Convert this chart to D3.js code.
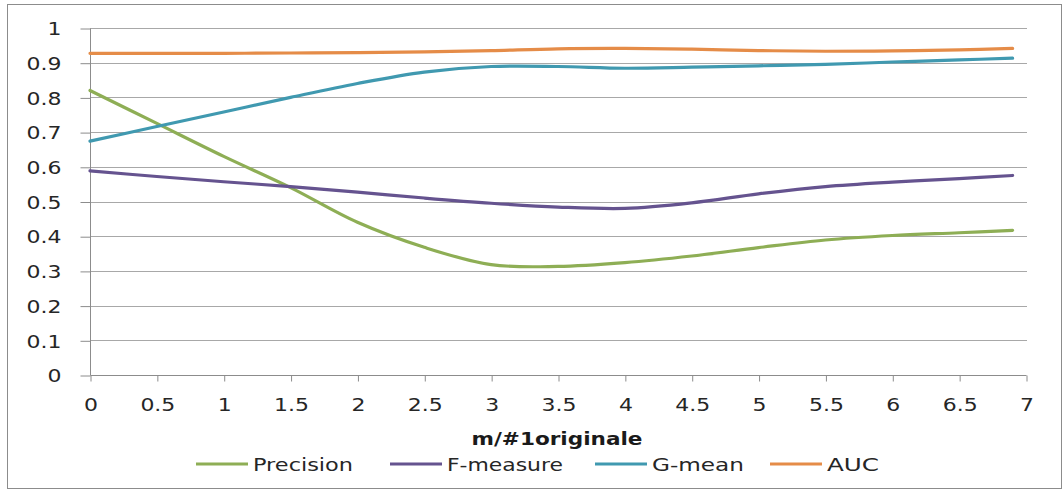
<!DOCTYPE html>
<html>
<head>
<meta charset="utf-8">
<script src="https://cdn.jsdelivr.net/npm/d3@7"></script>
<style>
  html, body { margin: 0; padding: 0; background: #fff; }
  svg { display: block; }
</style>
</head>
<body>
<svg id="chart" width="1063" height="492"></svg>
<script>
// ---- data ----
const xs = [0, 0.5, 1, 1.5, 2, 2.5, 3, 3.5, 4, 4.5, 5, 5.5, 6, 6.5, 6.9];
const precision = [0.82, 0.725, 0.63, 0.54, 0.44, 0.368, 0.318, 0.313, 0.324, 0.343, 0.367, 0.389, 0.402, 0.41, 0.417];
const fmeasure  = [0.588, 0.572, 0.557, 0.543, 0.527, 0.51, 0.495, 0.484, 0.48, 0.496, 0.522, 0.543, 0.556, 0.566, 0.575];
const gmean     = [0.674, 0.716, 0.758, 0.80, 0.84, 0.873, 0.889, 0.889, 0.884, 0.887, 0.891, 0.895, 0.902, 0.908, 0.913];
const auc       = [0.927, 0.927, 0.927, 0.928, 0.929, 0.931, 0.935, 0.94, 0.941, 0.939, 0.935, 0.933, 0.934, 0.937, 0.941];
const seriesNames = ["Precision", "F-measure", "G-mean", "AUC"];
const yTicks = [0, 0.1, 0.2, 0.3, 0.4, 0.5, 0.6, 0.7, 0.8, 0.9, 1];
const xTicks = [0, 0.5, 1, 1.5, 2, 2.5, 3, 3.5, 4, 4.5, 5, 5.5, 6, 6.5, 7];
const xTitle = "m/#1originale";

const seriesValues = [precision, fmeasure, gmean, auc];
const colors = ["#8eae55", "#65538f", "#4099b0", "#e58c48"];

const svg = d3.select("#chart");
const x = d3.scaleLinear().domain([0, 7]).range([90, 1026]);
const y = d3.scaleLinear().domain([0, 1]).range([375, 28]);

// outer border
svg.append("rect").attr("x", 7.5).attr("y", 4.5).attr("width", 1054).attr("height", 484)
  .attr("fill", "#fff").attr("stroke", "#8c8c8c").attr("stroke-width", 1);

// gridlines
svg.append("g").selectAll("line").data(yTicks.filter(d => d > 0)).join("line")
  .attr("x1", 90).attr("x2", 1027)
  .attr("y1", d => Math.round(y(d)) + 0.5).attr("y2", d => Math.round(y(d)) + 0.5)
  .attr("stroke", "#a8a8a8").attr("stroke-width", 1);

// y axis
const yAxis = d3.axisLeft(y).tickValues(yTicks).tickSize(10).tickFormat(d3.format("~g"));
const gy = svg.append("g").attr("transform", "translate(90.5,0.5)").call(yAxis);
gy.select(".domain").attr("stroke", "#8c8c8c").attr("d", `M0,${y(1)}V${y(0)}`);
gy.selectAll(".tick line").attr("stroke", "#8c8c8c");
gy.selectAll(".tick text")
  .attr("x", 0).attr("dy", null).attr("dominant-baseline", "central")
  .attr("font-family", "DejaVu Sans, Verdana, sans-serif").attr("font-size", 18)
  .attr("fill", "#262626")
  .attr("text-anchor", "end")
  .attr("transform", "translate(-29,0) scale(1.22,1)");

// x axis
const xAxis = d3.axisBottom(x).tickValues(xTicks).tickSize(6).tickFormat(d3.format("~g"));
const gx = svg.append("g").attr("transform", `translate(0.5,${Math.round(y(0)) + 0.5})`).call(xAxis);
gx.select(".domain").attr("stroke", "#8c8c8c").attr("d", `M${x(0)},0H${x(7)}`);
gx.selectAll(".tick line").attr("stroke", "#8c8c8c");
gx.selectAll(".tick text")
  .attr("y", 0).attr("dy", null)
  .attr("font-family", "DejaVu Sans, Verdana, sans-serif").attr("font-size", 18)
  .attr("fill", "#262626")
  .attr("transform", "translate(0,35) scale(1.22,1)");

// lines
const line = d3.line().x((d, i) => x(xs[i])).y(d => y(d)).curve(d3.curveCatmullRom.alpha(0.5));
svg.append("g").selectAll("path").data(seriesValues).join("path")
  .attr("d", d => line(d))
  .attr("fill", "none")
  .attr("stroke", (d, i) => colors[i])
  .attr("stroke-width", 3.2)
  .attr("stroke-linecap", "round");

// x title
svg.append("text").attr("x", 557).attr("y", 445)
  .attr("text-anchor", "middle")
  .attr("font-family", "DejaVu Sans, Verdana, sans-serif").attr("font-weight", "bold")
  .attr("font-size", 18).attr("fill", "#1a1a1a")
  .attr("textLength", 171).attr("lengthAdjust", "spacingAndGlyphs")
  .text(xTitle);

// legend
const legX = [196, 390, 595, 770];
const legTextW = [100, 116, 92, 52];
const leg = svg.append("g").selectAll("g").data(seriesNames).join("g")
  .attr("transform", (d, i) => `translate(${legX[i]},464)`);
leg.append("line").attr("x1", 0).attr("x2", 52).attr("y1", 0).attr("y2", 0)
  .attr("stroke", (d, i) => colors[i]).attr("stroke-width", 3.2);
leg.append("text").attr("x", 57).attr("y", 6.5)
  .attr("font-family", "DejaVu Sans, Verdana, sans-serif").attr("font-size", 18)
  .attr("fill", "#262626")
  .attr("textLength", (d, i) => legTextW[i]).attr("lengthAdjust", "spacingAndGlyphs")
  .text(d => d);
</script>
</body>
</html>
